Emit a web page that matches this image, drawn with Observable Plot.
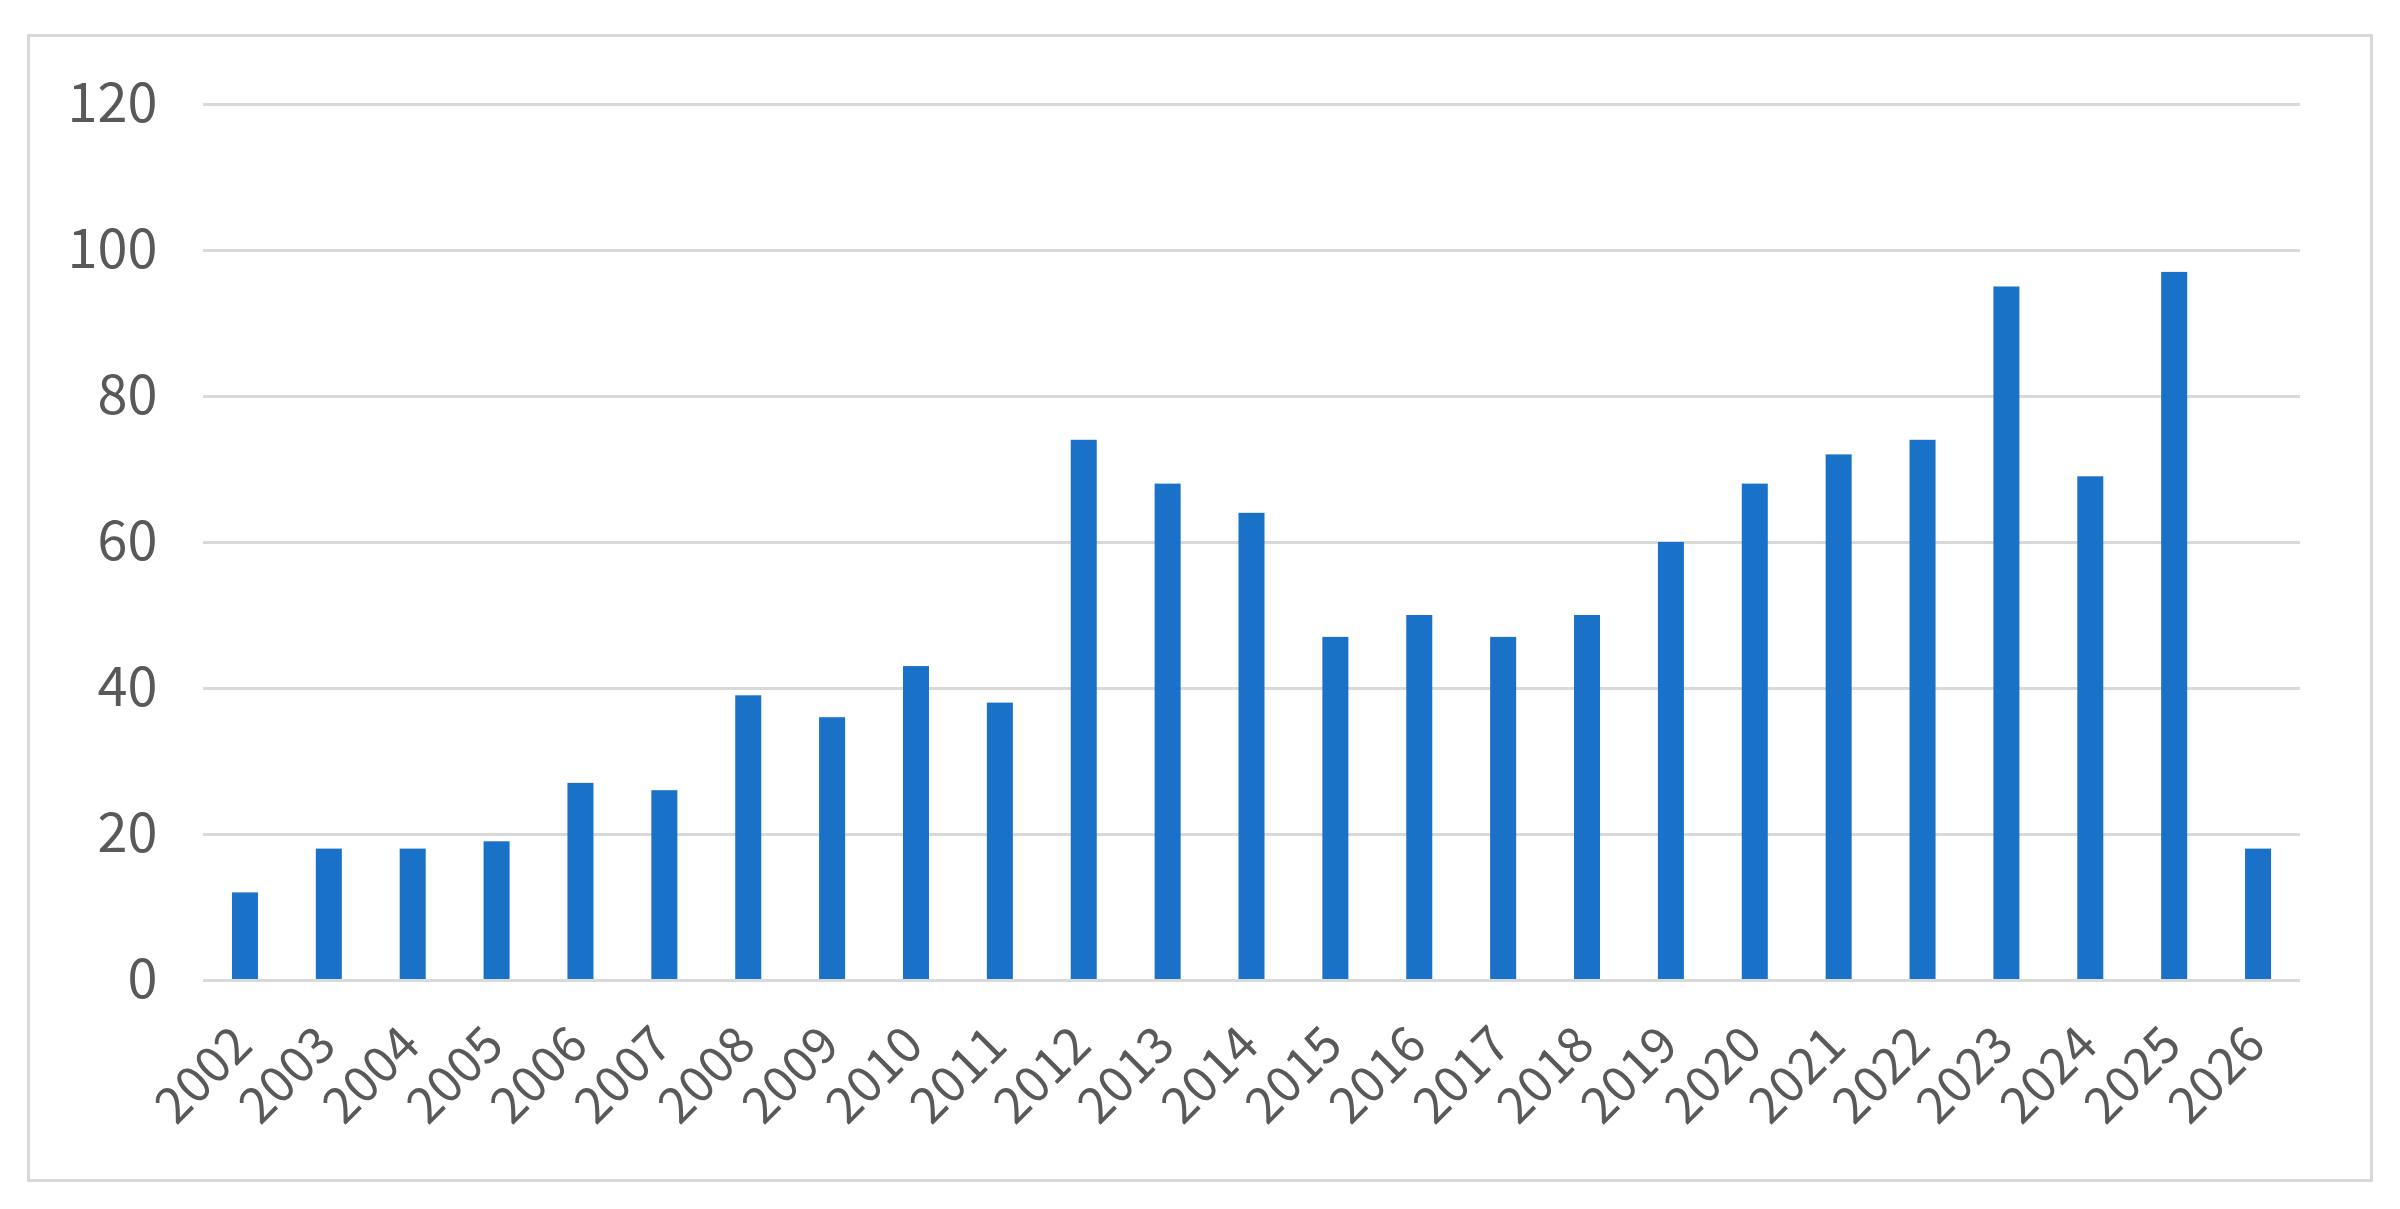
<!DOCTYPE html>
<html>
<head>
<meta charset="utf-8">
<script src="https://cdn.jsdelivr.net/npm/d3@7"></script>
<script src="https://cdn.jsdelivr.net/npm/@observablehq/plot@0.6"></script>
<style>
  html, body { margin: 0; padding: 0; background: #fff; }
  #wrap { position: relative; width: 2400px; height: 1209px; }
  #border { position: absolute; left: 27px; top: 34px; width: 2340px; height: 1142px; border: 3px solid #d9d9d9; pointer-events: none; }
  #chart { position: absolute; left: 0; top: 0; }
</style>
</head>
<body>
<div id="wrap"><div id="border"></div><div id="chart"></div></div>
<script>
const years = ["2002","2003","2004","2005","2006","2007","2008","2009","2010","2011","2012","2013","2014","2015","2016","2017","2018","2019","2020","2021","2022","2023","2024","2025","2026"];
const counts = [12,18,18,19,27,26,39,36,43,38,74,68,64,47,50,47,50,60,68,72,74,95,69,97,18];
const yTicks = [0,20,40,60,80,100,120];

const data = years.map((y, i) => ({year: y, count: counts[i]}));

const chart = Plot.plot({
  width: 2400,
  height: 1209,
  marginLeft: 203,
  marginRight: 100,
  marginTop: 104,
  marginBottom: 229,
  style: {fontFamily: "'Noto Sans CJK JP', 'Noto Sans', sans-serif", fontSize: "54px", color: "#595959", background: "transparent"},
  x: {domain: years, paddingInner: 0.69, paddingOuter: 0.345, round: false, label: null},
  y: {domain: [0, 120], ticks: yTicks, label: null},
  marks: [
    Plot.gridY(yTicks, {stroke: "#d9d9d9", strokeOpacity: 1, strokeWidth: 3}),
    Plot.axisY({ticks: yTicks, tickSize: 0, tickPadding: 46, fill: "#595959", label: null}),
    Plot.barY(data, {x: "year", y: "count", fill: "#1971c8"}),
    Plot.ruleY([0], {stroke: "#d9d9d9", strokeWidth: 3}),
    Plot.axisX({tickSize: 0, tickPadding: 56, dx: -2, tickRotate: -45, fontSize: 50, fill: "#595959", label: null})
  ]
});
document.getElementById("chart").appendChild(chart);
</script>
</body>
</html>
